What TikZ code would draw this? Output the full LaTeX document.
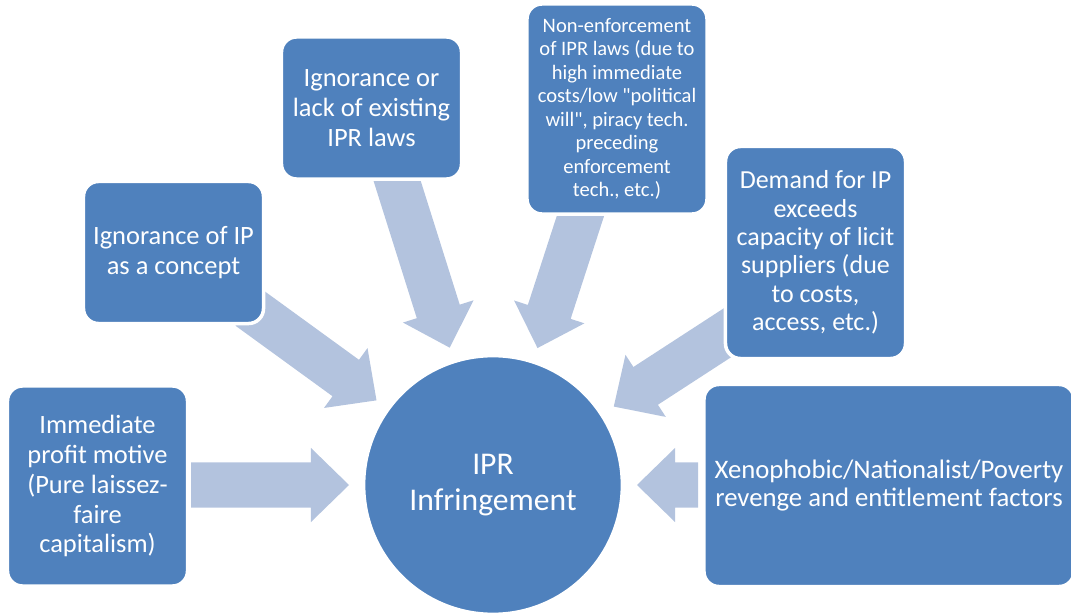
\documentclass[tikz,border=0pt]{standalone}
\usepackage{fontspec}
\setmainfont{Carlito}
\usetikzlibrary{calc}
\definecolor{boxblue}{HTML}{4F81BD}
\definecolor{arrowblue}{HTML}{B3C3DE}

\begin{document}
\begin{tikzpicture}[x=0.025cm, y=0.025cm,
    factor/.style={rectangle, rounded corners=0.375cm, fill=boxblue, draw=white,
        line width=2.5pt, text=white, align=center, inner sep=0pt,
        font=\fontsize{18.8}{21.3}\selectfont},
    hub/.style={circle, fill=boxblue, draw=white, line width=2pt, text=white,
        align=center, minimum size=6.45cm, inner sep=0pt,
        font=\fontsize{22.5}{25}\selectfont},
    fat/.style={fill=arrowblue}]
    \useasboundingbox (0,0) rectangle (1071,613);

    % Central effect
    \node[hub] (ipr) at (493,128) {IPR\\Infringement};

    % Block arrows towards the centre (angle / distance of the tail)
    \foreach \ang/\far in {180/302, 144/302, 107.5/329, 72/329, 33/302, 0/205} {
        \coordinate (tip) at ($(ipr.center)+(\ang:144)$);
        \coordinate (tail) at ($(ipr.center)+(\ang:\far)$);
        \coordinate (base) at ($(tip)!0.95cm!(tail)$);
        \fill[fat] ($(tail)!0.5625cm!90:(tip)$) -- ($(base)!0.5625cm!-90:(tail)$)
            -- ($(base)!0.925cm!-90:(tail)$) -- (tip)
            -- ($(base)!0.925cm!90:(tail)$) -- ($(base)!0.5625cm!90:(tail)$)
            -- ($(tail)!0.5625cm!-90:(tip)$) -- cycle;
    }

    % Causes
    \node[factor, minimum width=4.5cm, minimum height=5cm] (profit) at (97.5,127)
        {Immediate\\profit motive\\(Pure laissez-\\faire\\capitalism)};
    \node[factor, minimum width=4.5cm, minimum height=3.55cm] (concept) at (173.5,360.5)
        {Ignorance of IP\\as a concept};
    \node[factor, minimum width=4.5cm, minimum height=3.55cm] (existing) at (371.5,505)
        {Ignorance or\\lack of existing\\IPR laws};
    \node[factor, minimum width=4.5cm, minimum height=5.25cm,
        font=\fontsize{14.6}{16.7}\selectfont] (enforce) at (617,504)
        {Non-enforcement\\of IPR laws (due to\\high immediate\\costs/low \textquotedbl political\\will\textquotedbl, piracy tech.\\preceding\\enforcement\\tech., etc.)};
    \node[factor, minimum width=4.5cm, minimum height=5.3cm,
        font=\fontsize{18.5}{20.2}\selectfont] (demand) at (815.5,360.5)
        {Demand for IP\\exceeds\\capacity of licit\\suppliers (due\\to costs,\\access, etc.)};
    \node[factor, minimum width=9.25cm, minimum height=5.05cm,
        font=\fontsize{19}{20}\selectfont] (xeno) at (889,127.5)
        {Xenophobic/Nationalist/Poverty\\revenge and entitlement factors};
\end{tikzpicture}
\end{document}
